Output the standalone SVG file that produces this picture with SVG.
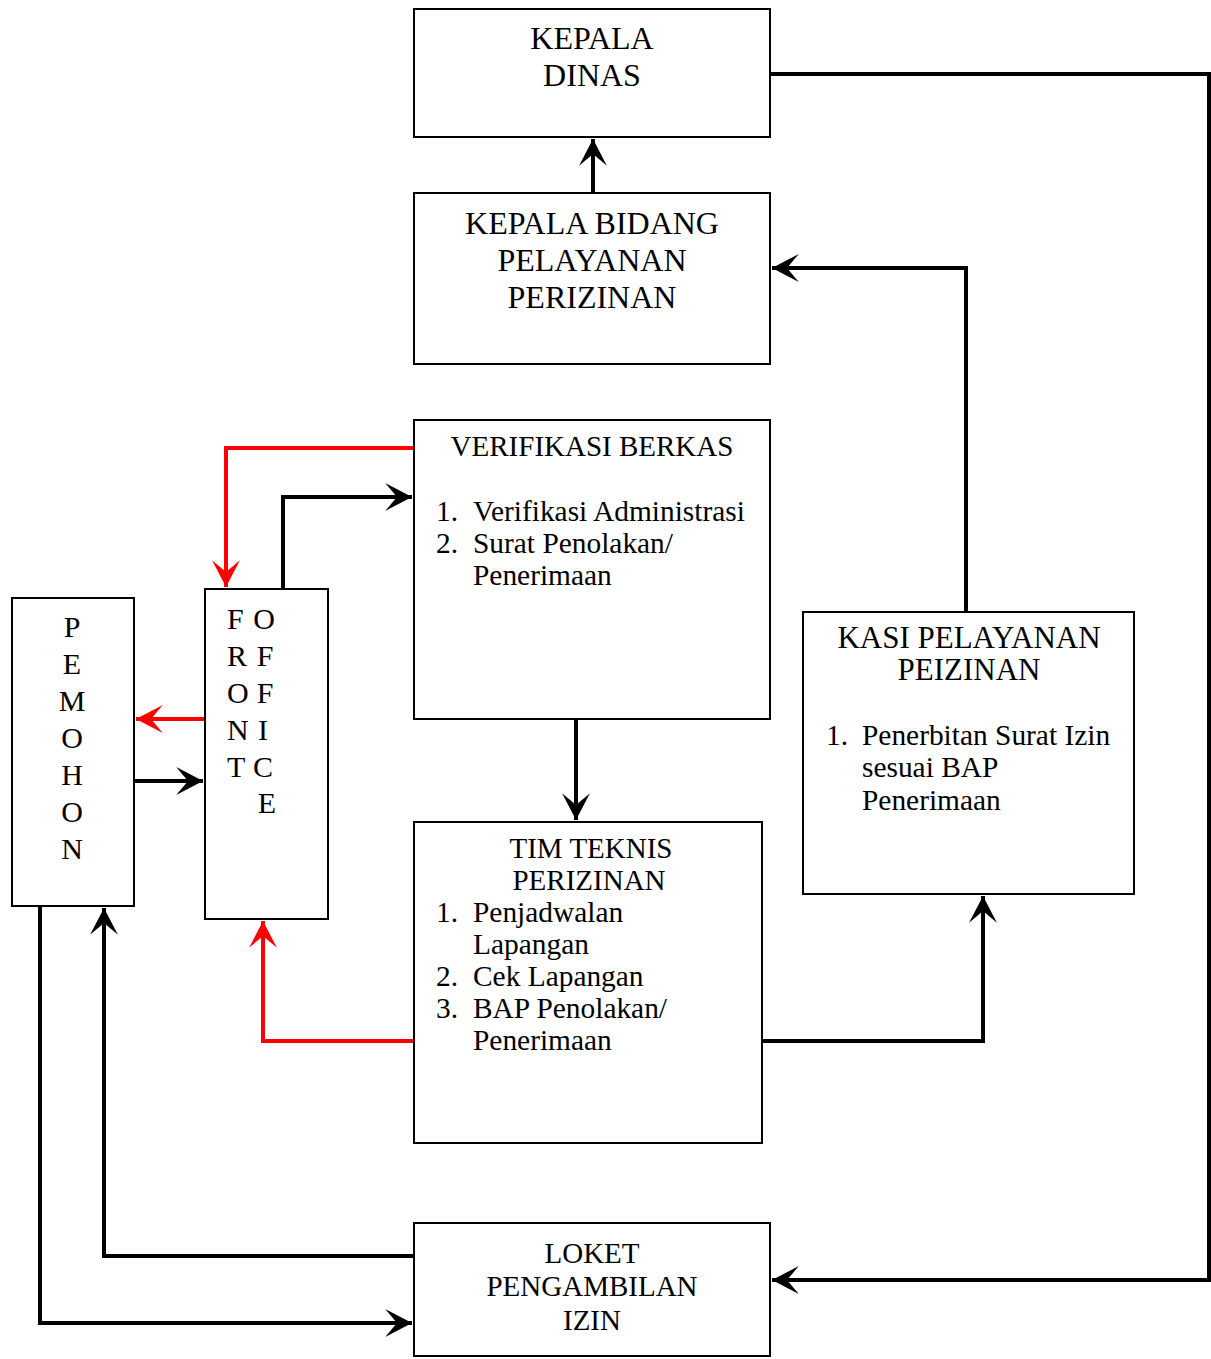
<svg xmlns="http://www.w3.org/2000/svg" width="1211" height="1359" viewBox="0 0 1211 1359">
<style>
.box{fill:#fff;stroke:#000;stroke-width:2}
text{font-family:"Liberation Serif","Times New Roman",serif;font-size:29px;fill:#000}
.t{font-size:32px}
.s{font-size:31px}
.l{font-size:29.4px}
.v{font-size:30px}
.c{text-anchor:middle}
.k{fill:none;stroke:#000;stroke-width:4}
.r{fill:none;stroke:#f00;stroke-width:4}
</style>
<defs>
<marker id="ak" markerUnits="userSpaceOnUse" markerWidth="30" markerHeight="30" viewBox="-26 -14 28 28" refX="0" refY="0" orient="auto" overflow="visible">
<path d="M0,0 L-25,-13 L-14,0 L-25,13 Z" fill="#000"/>
</marker>
<marker id="ar" markerUnits="userSpaceOnUse" markerWidth="30" markerHeight="30" viewBox="-26 -14 28 28" refX="0" refY="0" orient="auto" overflow="visible">
<path d="M0,0 L-25,-13 L-14,0 L-25,13 Z" fill="#f00"/>
</marker>
</defs>
<rect width="1211" height="1359" fill="#fff"/>
<g id="connectors">
<polyline class="k" points="770,74 1209,74 1209,1280 772,1280" marker-end="url(#ak)"/>
<polyline class="k" points="593,193 593,139" marker-end="url(#ak)"/>
<polyline class="k" points="966,612 966,268 772,268" marker-end="url(#ak)"/>
<polyline class="k" points="762,1041 983,1041 983,896" marker-end="url(#ak)"/>
<polyline class="k" points="576,719 576,820" marker-end="url(#ak)"/>
<polyline class="r" points="414,448 226,448 226,587" marker-end="url(#ar)"/>
<polyline class="k" points="283,589 283,497 412,497" marker-end="url(#ak)"/>
<polyline class="r" points="205,719 136,719" marker-end="url(#ar)"/>
<polyline class="k" points="134,781 203,781" marker-end="url(#ak)"/>
<polyline class="r" points="414,1041 263,1041 263,921" marker-end="url(#ar)"/>
<polyline class="k" points="414,1256 104,1256 104,908" marker-end="url(#ak)"/>
<polyline class="k" points="40,906 40,1323 412,1323" marker-end="url(#ak)"/>
</g>
<g id="kepala-dinas">
<rect class="box" x="414" y="9" width="356" height="128"/>
<text class="t c" x="592" y="49">KEPALA</text>
<text class="t c" x="592" y="86">DINAS</text>
</g>
<g id="kepala-bidang">
<rect class="box" x="414" y="193" width="356" height="171"/>
<text class="t c" x="592" y="234">KEPALA BIDANG</text>
<text class="t c" x="592" y="271">PELAYANAN</text>
<text class="t c" x="592" y="308">PERIZINAN</text>
</g>
<g id="verifikasi-berkas">
<rect class="box" x="414" y="420" width="356" height="299"/>
<text class="c" x="592" y="456">VERIFIKASI BERKAS</text>
<text class="l" x="436" y="521">1.</text><text class="l" x="473" y="521">Verifikasi Administrasi</text>
<text class="l" x="436" y="553">2.</text><text class="l" x="473" y="553">Surat Penolakan/</text>
<text class="l" x="473" y="585">Penerimaan</text>
</g>
<g id="tim-teknis">
<rect class="box" x="414" y="822" width="348" height="321"/>
<text class="c" x="591" y="858">TIM TEKNIS</text>
<text class="c" x="589" y="890">PERIZINAN</text>
<text class="l" x="436" y="922">1.</text><text class="l" x="473" y="922">Penjadwalan</text>
<text class="l" x="473" y="954">Lapangan</text>
<text class="l" x="436" y="986">2.</text><text class="l" x="473" y="986">Cek Lapangan</text>
<text class="l" x="436" y="1018">3.</text><text class="l" x="473" y="1018">BAP Penolakan/</text>
<text class="l" x="473" y="1050">Penerimaan</text>
</g>
<g id="kasi-pelayanan">
<rect class="box" x="803" y="612" width="331" height="282"/>
<text class="s c" x="969" y="648">KASI PELAYANAN</text>
<text class="s c" x="969" y="680">PEIZINAN</text>
<text class="l" x="826" y="745">1.</text><text class="l" x="862" y="745">Penerbitan Surat Izin</text>
<text class="l" x="862" y="777">sesuai BAP</text>
<text class="l" x="862" y="810">Penerimaan</text>
</g>
<g id="loket">
<rect class="box" x="414" y="1223" width="356" height="133"/>
<text class="c" x="592" y="1263">LOKET</text>
<text class="c" x="592" y="1296">PENGAMBILAN</text>
<text class="c" x="592" y="1330">IZIN</text>
</g>
<g id="pemohon">
<rect class="box" x="12" y="598" width="122" height="308"/>
<text class="v c" x="72" y="637">P</text>
<text class="v c" x="72" y="674">E</text>
<text class="v c" x="72" y="711">M</text>
<text class="v c" x="72" y="748">O</text>
<text class="v c" x="72" y="785">H</text>
<text class="v c" x="72" y="822">O</text>
<text class="v c" x="72" y="859">N</text>
</g>
<g id="front-office">
<rect class="box" x="205" y="589" width="123" height="330"/>
<text class="v" x="227" y="629">F</text>
<text class="v" x="227" y="666">R</text>
<text class="v" x="227" y="703">O</text>
<text class="v" x="227" y="740">N</text>
<text class="v" x="227" y="777">T</text>
<text class="v c" x="264" y="629">O</text>
<text class="v c" x="265" y="666">F</text>
<text class="v c" x="265" y="703">F</text>
<text class="v c" x="263" y="740">I</text>
<text class="v c" x="263" y="777">C</text>
<text class="v c" x="267" y="813">E</text>
</g>
</svg>
